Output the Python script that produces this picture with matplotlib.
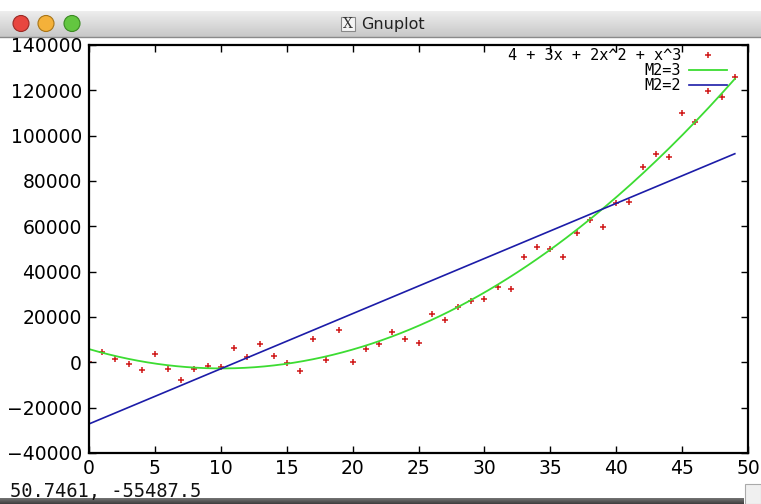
import matplotlib.pyplot as plt
import numpy as np
from matplotlib.patches import Circle, Rectangle

# data points (x = 0..49, the x=0 point sits on the border)
x_pts = np.arange(0, 50)
y_pts = [0, 4550, 1280, -750, -3580, 3660, -3130, -8000, -3130, -1800, -2000,
         6310, 2450, 8000, 3000, -250, -4020, 10200, 840, 14150, 260,
         5900, 7900, 13510, 10290, 8520, 21150, 18500, 24500, 27000, 27950,
         33240, 32360, 46490, 50900, 50000, 46490, 57000, 62960, 59730, 70330,
         70770, 86360, 91790, 90640, 110060, 105920, 119910, 117130, 125960]

labels = ["4 + 3x + 2x^2 + x^3", "M2=3", "M2=2"]
x_ticks = np.arange(0, 51, 5)
y_ticks = np.arange(-40000, 140001, 20000)

W, H = 761, 504
fig = plt.figure(figsize=(W / 100, H / 100), dpi=100)

# window chrome (title bar, status line) drawn in pixel coords
chrome = fig.add_axes([0, 0, 1, 1], zorder=0)
grad = np.linspace(0.93, 0.78, 50)[:, None]
chrome.imshow(grad, cmap='gray', vmin=0, vmax=1, aspect='auto',
              extent=(0, W, 37, 11))
chrome.plot([0, W], [37, 37], color='#8a8a8a', lw=1)
for cx, c, ec in [(21, '#e8463f', '#9b2a25'), (46, '#f4b13a', '#a87518'),
                  (72, '#63c640', '#3a8a22')]:
    chrome.add_patch(Circle((cx, 23.5), 8, fc=c, ec=ec, lw=0.8))
chrome.add_patch(Rectangle((341, 17), 14, 14, fc='#f4f4f4', ec='#888', lw=0.8))
chrome.text(348, 24.5, 'X', ha='center', va='center', fontsize=10,
            family='DejaVu Serif', color='#333')
chrome.text(361, 24, 'Gnuplot', ha='left', va='center', fontsize=11.5, color='#222')
chrome.text(10, 492, '50.7461, -55487.5', ha='left', va='center',
            fontsize=13.5, family='DejaVu Sans Mono', color='#111')
chrome.imshow(np.linspace(0.45, 0.25, 10)[:, None], cmap='gray', vmin=0, vmax=1,
              aspect='auto', extent=(0, 744, 504, 498))
chrome.add_patch(Rectangle((745, 484), 16, 20, fc='#f0f0f0', ec='#aaa', lw=0.8))
chrome.set_xlim(0, W)
chrome.set_ylim(H, 0)
chrome.axis('off')

# the plot itself
ax = fig.add_axes([89 / W, 1 - 453 / H, (748 - 89) / W, (453 - 45) / H], zorder=1)
ax.set_facecolor('none')

xx = np.linspace(0, 49, 200)
quad = np.polyfit(x_pts, y_pts, 2)
lin = np.polyfit(x_pts, y_pts, 1)

ax.plot(x_pts, y_pts, '+', color='#d01818', ms=4.5, mew=1.1, label=labels[0],
        zorder=1.5)
ax.plot(xx, np.polyval(quad, xx), color='#3cdc32', lw=1.3, label=labels[1])
ax.plot(xx, np.polyval(lin, xx), color='#1c1ca8', lw=1.2, label=labels[2])

ax.set_xlim(0, 50)
ax.set_ylim(-40000, 140000)
ax.set_xticks(x_ticks)
ax.set_yticks(y_ticks)
ax.tick_params(direction='in', length=5, width=1, top=True, right=True,
               labelsize=13.5)
ax.tick_params(axis='y', pad=5)
ax.tick_params(axis='x', pad=4)
for s in ax.spines.values():
    s.set_linewidth(1.6)
    s.set_zorder(3)

# gnuplot style key: text right-aligned, sample on the right
leg = ax.legend(loc='upper right', bbox_to_anchor=(1 - 18 / 659, 1),
                frameon=False, markerfirst=False,
                prop={'family': 'DejaVu Sans Mono', 'size': 11},
                handlelength=2.5, handletextpad=0.5, labelspacing=0.0,
                borderpad=0.1, borderaxespad=0.1)

fig.savefig('out.png', dpi=100)
